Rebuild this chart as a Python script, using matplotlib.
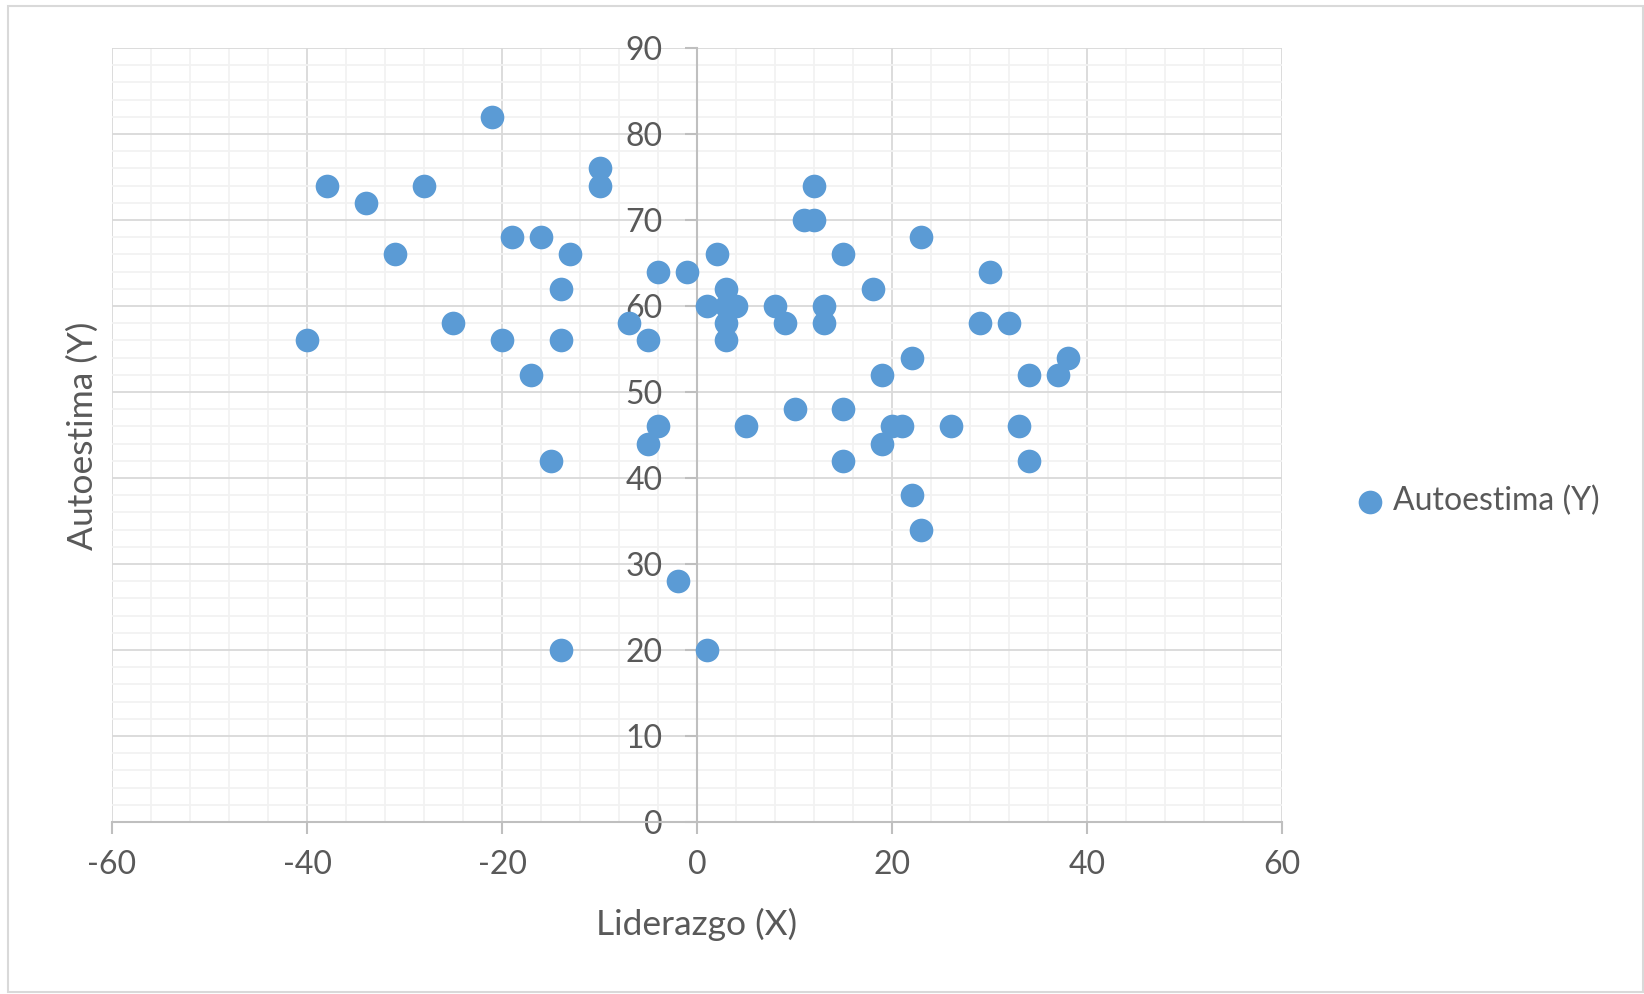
import matplotlib
matplotlib.use('Agg')
import matplotlib.pyplot as plt
from matplotlib.patches import Rectangle
from matplotlib.ticker import MultipleLocator

# Liderazgo (X) vs Autoestima (Y)
liderazgo = [-21, -38, -34, -28, -31, -10, -10, -19, -16, -13, -14, -4, -1, 2,
             -40, -25, -20, -14, -17, -7, -5, -15, -4, -5, -2, -14, 1,
             1, 3, 3, 4, 3, 3, 8, 9, 13, 13, 12, 11, 12, 15, 18, 23, 30,
             29, 32, 22, 19, 34, 37, 38, 10, 15, 5, 20, 21, 26, 33, 19,
             15, 34, 22, 23]
autoestima = [82, 74, 72, 74, 66, 76, 74, 68, 68, 66, 62, 64, 64, 66,
              56, 58, 56, 56, 52, 58, 56, 42, 46, 44, 28, 20, 20,
              60, 62, 60, 60, 58, 56, 60, 58, 60, 58, 74, 70, 70, 66, 62, 68, 64,
              58, 58, 54, 52, 52, 52, 54, 48, 48, 46, 46, 46, 46, 46, 44,
              42, 42, 38, 34]
serie = "Autoestima (Y)"

plt.rcParams['font.family'] = ['Lato', 'DejaVu Sans']
plt.rcParams['axes.unicode_minus'] = False
text_col = '#595959'

W, H = 1644, 994
fig = plt.figure(figsize=(W / 100, H / 100), dpi=100, facecolor='white')
fig.patches.append(Rectangle((8 / W, 1 - 992 / H), (1643 - 8) / W, (992 - 6) / H,
                             transform=fig.transFigure, fill=False,
                             edgecolor='#d9d9d9', linewidth=1.5))

ax = fig.add_axes([112 / W, 1 - 822 / H, (1282 - 112) / W, (822 - 48) / H])
ax.set_xlim(-60, 60)
ax.set_ylim(0, 90)
ax.xaxis.set_major_locator(MultipleLocator(20))
ax.xaxis.set_minor_locator(MultipleLocator(4))
ax.yaxis.set_major_locator(MultipleLocator(10))
ax.yaxis.set_minor_locator(MultipleLocator(2))
ax.grid(which='major', color='#d9d9d9', linewidth=1.3, zorder=0)
ax.grid(which='minor', color='#f2f2f2', linewidth=1.3, zorder=0)
ax.set_axisbelow(True)

for s in ['top', 'right']:
    ax.spines[s].set_visible(False)
ax.spines['left'].set_position(('data', 0))
ax.spines['left'].set_color('#bfbfbf')
ax.spines['bottom'].set_color('#bfbfbf')
ax.spines['left'].set_linewidth(1.5)
ax.spines['bottom'].set_linewidth(1.5)
ax.tick_params(which='major', direction='out', length=8.5, width=1.5, color='#bfbfbf',
               labelsize=23, labelcolor=text_col)
ax.tick_params(which='minor', length=0)
ax.tick_params(axis='x', pad=12)
ax.tick_params(axis='y', pad=16)

ax.scatter(liderazgo, autoestima, s=290, color='#5b9bd5', linewidths=0, zorder=3,
           label=serie, clip_on=False)

fig.text(697 / W, 1 - 924 / H, "Liderazgo (X)", ha='center', va='center',
         fontsize=25.5, color=text_col)
fig.text(83 / W, 1 - 436 / H, "Autoestima (Y)", ha='center', va='center',
         rotation=90, fontsize=25.5, color=text_col)

fig.legend(loc='center left', bbox_to_anchor=(1332 / W, 1 - 501 / H), frameon=False,
           fontsize=23, labelcolor=text_col, handletextpad=0.0, markerscale=1.0,
           borderpad=0, handlelength=1.4)

fig.savefig('out.png', dpi=100, facecolor='white')
